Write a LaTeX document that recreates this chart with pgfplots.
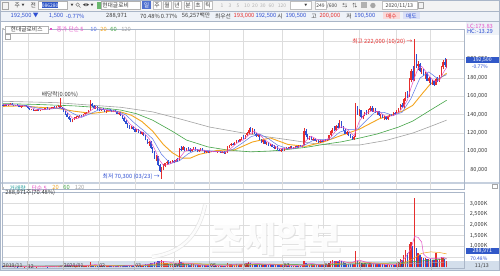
\documentclass[border=0pt]{standalone}
\usepackage{pgfplots}
\pgfplotsset{compat=1.18}
\usepackage{pgfplotstable}
\usepackage{fontspec}
\setmainfont{Noto Sans CJK KR}
\newcommand{\sz}[1]{\fontsize{#1}{#1}\selectfont}
\definecolor{upc}{HTML}{E62E2D}
\definecolor{dnc}{HTML}{2E4FD2}
\definecolor{ma5}{HTML}{E552C8}
\definecolor{ma10}{HTML}{5B78E8}
\definecolor{ma20}{HTML}{F3A51F}
\definecolor{ma60}{HTML}{45A548}
\definecolor{ma120}{HTML}{A3A3A3}
\definecolor{gridc}{HTML}{DDDDDD}
\definecolor{axc}{HTML}{AAB6C8}
\definecolor{sep}{HTML}{C6D0DE}
\definecolor{band}{HTML}{D3DEEB}
\definecolor{txt}{HTML}{3A3A3A}
\definecolor{boxb}{HTML}{3158C8}
\definecolor{hdra}{HTML}{F3F3F3}
\definecolor{hdrb}{HTML}{EEF2F8}
\definecolor{vteal}{HTML}{2AA0A0}
\pgfplotstableread{
i o h l c v
0 151 152 149.5 150 60
1 150 151.5 149 151 55
2 151 152 150 150.5 50
3 150.5 151.5 149.5 151 45
4 151 152.5 150 152 70
5 152 152.5 150 150.5 60
6 150.5 151 149 149.5 50
7 149.5 151 149 150.5 45
8 150.5 151.5 149.5 150 40
9 150 150.5 148 148.5 55
10 148.5 149.5 147.5 149 45
11 149 150.5 148.5 150 50
12 150 151 149 150.5 40
13 150.5 151 148.5 149 50
14 149 149.5 146.5 147 60
15 147 147.5 145 145.5 70
16 145.5 146.5 144.5 146 50
17 146 146.5 144 144.5 55
18 144.5 145.5 143.5 145 45
19 145 146 144 145.5 40
20 145.5 146 144 144.5 50
21 144.5 145.5 143.5 145 45
22 145 146.5 144.5 146 50
23 146 147 145 146.5 45
24 146.5 147.5 145.5 147 50
25 147 148 146 146.5 40
26 146.5 147.5 145.5 147 45
27 147 148 146.5 147.5 50
28 147.5 148.5 146.5 148 55
29 148 149 147 147.5 45
30 147.5 149 147 148.5 60
31 148.5 150 148 149.5 70
32 149.5 150 147 147.5 60
33 147.5 148 146 146.5 50
34 146.5 147 143 143.5 80
35 143.5 144 140 140.5 90
36 140.5 141.5 137 137.5 100
37 137.5 138.5 134.5 135 110
38 135 136.5 132 133 120
39 133 135 131.5 134.5 90
40 134.5 137 134 136.5 80
41 136.5 138 135.5 137.5 70
42 137.5 139 136.5 138 60
43 138 139.5 137 139 60
44 139 140 137.5 138.5 55
45 138.5 141 138 140.5 70
46 140.5 142 139.5 141.5 60
47 141.5 143 140.5 142 70
48 142 145 141.5 144.5 110
49 144.5 156 144 151.5 250
50 151.5 153 148 149 130
51 149 150.5 146.5 147 90
52 147 149 146 148.5 80
53 148.5 149 145.5 146 70
54 146 147 144 144.5 70
55 144.5 146.5 144 146 60
56 146 147 144.5 145 55
57 145 145.5 142.5 143 60
58 143 144.5 142 144 50
59 144 145.5 143.5 145 55
60 145 146 143.5 144 50
61 144 145 142.5 143 50
62 143 144.5 142.5 144 45
63 144 145 142.5 143 50
64 143 143.5 140.5 141 60
65 141 142.5 140 142 55
66 142 142.5 139 139.5 60
67 139.5 140 135.5 136 80
68 136 137 132.5 133 90
69 133 134 129.5 130 100
70 130 131 126 127 110
71 127 128.5 124.5 125 100
72 125 127.5 124.5 127 90
73 127 128 123.5 124 80
74 124 125.5 121 121.5 110
75 121.5 124 121 123.5 90
76 123.5 124.5 120.5 121 100
77 121 122.5 118.5 119 110
78 119 121.5 118 121 90
79 121 121.5 116.5 117 120
80 117 117.5 112 112.5 150
81 112.5 114 108 109 170
82 109 111.5 106 110.5 150
83 110.5 111 103 104 190
84 104 105 98 99 220
85 99 101 92 93 250
86 93 96 90 95 220
87 95 95.5 84 85 280
88 85 86 78 79 300
89 79 83.5 70.3 82 350
90 82 86 80 84.5 280
91 84.5 88 83 87 230
92 87 90 85.5 89 200
93 89 91 86 87 180
94 87 89.5 86 88.5 150
95 88.5 91 87.5 90 160
96 90 91 88 89 140
97 89 92 88.5 91 150
98 91 92.5 89 90 130
99 90 104 90 103 350
100 103 106 101 102 250
101 102 105.5 101.5 104.5 200
102 104.5 105 100.5 101 180
103 101 104 100 103.5 160
104 103.5 104.5 101 102 140
105 102 103.5 99.5 100 130
106 100 103 99.5 102.5 140
107 102.5 105 102 104 150
108 104 104.5 100.5 101 130
109 101 102.5 99 100 120
110 100 102 99.5 101.5 110
111 101.5 103.5 101 103 120
112 103 103.5 100.5 101 110
113 101 101.5 98.5 99 100
114 99 100.5 98 100 90
115 100 101 98.5 99 90
116 99 100.5 98 100 80
117 100 101 99 99.5 70
118 99.5 101 99 100.5 80
119 100.5 101 99 99.5 70
120 99.5 100.5 98.5 100 70
121 100 101 99.5 100.5 75
122 100.5 101 98.5 99 80
123 99 100 98 99.5 70
124 99.5 100 97.5 98 80
125 98 99.5 97 99 70
126 99 106 98.5 105.5 200
127 105.5 107 104 106.5 150
128 106.5 109 105.5 108.5 140
129 108.5 109.5 106.5 107 120
130 107 110.5 106.5 110 130
131 110 112 109 111.5 140
132 111.5 113 110 110.5 120
133 110.5 114 110 113.5 150
134 113.5 116 112.5 115 160
135 115 117.5 113.5 114 140
136 114 118 113.5 117.5 170
137 117.5 121 116.5 120.5 200
138 120.5 125 119.5 123.5 250
139 123.5 126.5 121 122 220
140 122 125 119.5 124 180
141 124 124.5 119 119.5 170
142 119.5 120.5 116 117 160
143 117 119.5 115.5 118.5 140
144 118.5 119 112 113 180
145 113 114 109 110 170
146 110 112.5 108.5 112 130
147 112 112.5 108 108.5 140
148 108.5 110 106.5 109.5 120
149 109.5 110.5 106 106.5 130
150 106.5 108.5 105.5 107.5 110
151 107.5 108 104.5 105 120
152 105 106.5 103 104 110
153 104 105.5 102.5 105 100
154 105 105.5 101.5 102 110
155 102 103 100 100.5 120
156 100.5 102.5 99.5 102 100
157 102 103.5 100.5 101.5 90
158 101.5 104 101 103.5 100
159 103.5 105 102.5 104 90
160 104 105 102.5 103 80
161 103 105.5 102.5 105 90
162 105 106 103.5 104 80
163 104 105 103 104.5 70
164 104.5 106 104 105.5 80
165 105.5 106 104 104.5 70
166 104.5 106.5 104 106 80
167 106 107 104.5 105 70
168 105 107.5 104.5 107 90
169 107 126 106.5 122 300
170 122 124 116 117.5 200
171 117.5 119.5 114 115 160
172 115 117 112.5 116 130
173 116 117 112 112.5 140
174 112.5 114.5 111 114 120
175 114 115 111 111.5 110
176 111.5 113 110 112.5 100
177 112.5 113 109.5 110 110
178 110 112 109 111.5 100
179 111.5 112.5 110 111 90
180 111 113 110 112.5 100
181 112.5 114 111 111.5 110
182 111.5 113.5 111 113 100
183 113 118 112.5 117.5 200
184 117.5 123 117 122 300
185 122 126 120.5 124.5 330
186 124.5 128 122 123 300
187 123 129 122.5 128 320
188 128 131 125 126 280
189 126 134 125.5 132 330
190 132 133 125 126 300
191 126 127.5 122 123 260
192 123 124.5 118.5 119.5 220
193 119.5 122 118 121 180
194 121 121.5 116.5 117 170
195 117 118.5 114.5 116 150
196 116 117 113 114 140
197 114 116.5 113 116 150
198 116 153 115.5 148 790
199 148 149 140 141 300
200 141 146 138.5 144.5 250
201 144.5 145.5 136 137 220
202 137 140 135 139 180
203 139 143 138 142.5 170
204 142.5 145 140 141 160
205 141 146 140.5 145.5 180
206 145.5 149 144 147.5 200
207 147.5 149 143 144 180
208 144 147.5 143 146.5 160
209 146.5 147 142 142.5 150
210 142.5 144 140 143.5 140
211 143.5 144 139 139.5 150
212 139.5 141 136.5 140.5 140
213 140.5 141 136 136.5 150
214 136.5 138 134 137.5 140
215 137.5 138 134.5 135 130
216 135 139 134.5 138.5 140
217 138.5 140.5 137 140 130
218 140 141 138 139 120
219 139 142.5 138.5 142 130
220 142 143 140 141 120
221 141 144.5 140.5 144 200
222 144 147 143 146 250
223 146 152 145.5 151 400
224 151 153 147 148 350
225 148 158 147.5 157 600
226 157 165 155 163 800
227 163 166 158 160 700
228 160 180 159 178 1100
229 178 190 175 187 1200
230 187 193 176 178 1000
231 180 222 176 198 3270
232 203 206 191 193 900
233 193 198 188 195 700
234 195 196 186 187 600
235 187 191 184 189 500
236 189 190 182 183 450
237 183 186 179 184 420
238 184 185 176 177 400
239 177 181 174 179.5 380
240 179.5 181 172 173 400
241 173 178 172 176.5 350
242 176.5 177 171 172.5 330
243 172.5 180 172 179 700
244 179 181 175 176 350
245 176 183 175.5 182 400
246 182 193 181 191.5 500
247 191.5 199 189 197 450
248 197 201 192 194 380
249 190.5 200 190.5 192.5 289
}\data
\pgfplotsset{
  hts/.style={scale only axis, anchor=south west, xmin=-0.56, xmax=258.7,
    axis line style={draw=axc, line width=0.5bp}, tick style={draw=none},
    xtick={14,34,54,74,96,116,135,157,180,200,221,240}, xticklabels={},
    xmajorgrids, ymajorgrids, major grid style={draw=gridc, line width=0.45bp},
    yticklabel pos=right,
    yticklabel style={anchor=east, xshift=27bp, font=\sz{5.6}, text=txt, inner ysep=0bp}},
  upw/.style={upc, line width=0.5bp, forget plot,
    restrict expr to domain={\thisrow{c}-\thisrow{o}}{0:1000}},
  dnw/.style={dnc, line width=0.5bp, forget plot,
    restrict expr to domain={\thisrow{c}-\thisrow{o}}{-1000:-0.001}},
}
\begin{document}
\begin{tikzpicture}[x=1bp,y=1bp,font=\sz{5.8}]
\fill[white] (0,0) rectangle (500,271);
\fill[hdra] (0,260) rectangle (500,271);
\fill[hdrb] (0,250) rectangle (500,260);
\draw[axc, line width=0.4bp] (0,260) -- (500,260) (0,249.5) -- (500,249.5);
\fill[sep] (0,87) rectangle (500,89);
\fill[band] (0,0) rectangle (500,9.5);

% ---------- price panel ----------
\begin{axis}[hts, at={(1,89)}, width=464, height=160, ymin=59.5, ymax=232.4,
  ytick={80,100,120,140,160,180,200,220},
  yticklabels={{80,000},{100,000},{120,000},{140,000},{160,000},{180,000},{200,000},{}}]
\addplot[ma120, line width=0.6bp] coordinates {(0,154.5)(30,153)(66,148)(84,143)(100,135)(116,126.5)(138,119)(150,115.5)(161,112.5)(175,108.5)(185,107)(200,107)(215,112)(230,120)(239,126.5)(249,134)};
\addplot[ma60, line width=0.6bp] coordinates {(0,152)(20,151)(40,149.5)(55,147.5)(66,145)(75,141)(84,134)(95,122)(103,112.4)(115,105)(126,101.6)(139,99.6)(150,100.5)(157,101.6)(170,104.5)(181,108)(190,110.5)(200,114.5)(210,119)(222,126.5)(230,133)(240,145)(249,155.6)};
\addplot[ma20, line width=0.9bp] coordinates {(0,149)(10,149.5)(20,148)(30,147)(40,143.7)(50,141.3)(60,143.7)(66,143)(72,139.4)(78,132.5)(84,122.1)(90,107.6)(95,98.7)(100,92.9)(105,92.7)(110,96.8)(120,101.1)(130,101.8)(140,110.3)(150,114.7)(160,107.6)(170,105.6)(180,110.4)(190,117.5)(200,124.2)(211,135.3)(220,140.9)(225,144.5)(230,150.1)(235,162)(240,173.5)(245,179)(249,184.9)};
% candles: wicks and bodies
\addplot[upw, quiver={u=0, v={\thisrow{h}-\thisrow{l}}}] table[x=i, y=l] {\data};
\addplot[dnw, quiver={u=0, v={\thisrow{h}-\thisrow{l}}}] table[x=i, y=l] {\data};
\addplot[upw, line width=1.3bp, quiver={u=0, v={max(abs(\thisrow{c}-\thisrow{o}),0.5)}}] table[x=i, y expr={min(\thisrow{o},\thisrow{c})}] {\data};
\addplot[dnw, line width=1.3bp, quiver={u=0, v={max(abs(\thisrow{c}-\thisrow{o}),0.5)}}] table[x=i, y expr={min(\thisrow{o},\thisrow{c})}] {\data};
\addplot[ma10, line width=0.5bp] coordinates {(0,151)(9,150.3)(14,149.5)(19,147.2)(24,145.6)(29,146.6)(34,147.2)(39,141.6)(44,137)(49,141)(54,145.5)(59,145.8)(64,143.8)(69,139.6)(74,130.5)(79,122.6)(84,113.7)(89,96.9)(94,87)(99,89.9)(104,97.6)(109,102)(114,101.2)(119,100.3)(124,99.5)(129,102.3)(134,108.7)(139,115.8)(144,119)(149,113.9)(154,107)(159,103.5)(164,103.4)(169,106.7)(174,112)(179,113.2)(184,113.3)(189,121)(194,124)(199,124.2)(204,133.9)(209,143)(214,142.3)(219,139.2)(224,142.5)(229,157.5)(234,179.6)(239,186.4)(244,179)(249,183.4)};
\addplot[ma5, line width=0.5bp] coordinates {(0,151)(4,150.9)(9,149.8)(14,149.1)(19,145.3)(24,145.8)(29,147.3)(34,147.1)(37,140.6)(39,136.1)(42,135.9)(46,139.5)(49,144)(52,148.1)(56,146)(61,143.8)(65,142.6)(68,138.3)(71,130.2)(75,124.2)(79,120.3)(82,114)(85,103.1)(88,90.2)(90,85.1)(93,85.9)(96,88.7)(99,92.6)(102,100.1)(105,102.2)(110,101.8)(115,100.4)(120,99.9)(125,99.2)(128,103.5)(131,108.7)(135,112.9)(138,118.1)(141,121.9)(144,118.4)(147,112.4)(151,107.4)(155,103.3)(160,102.8)(165,104.7)(168,105.6)(170,111.5)(173,116.6)(176,113.3)(180,111.5)(184,115.3)(187,123)(190,127)(193,124.3)(197,116.8)(198,122.2)(200,132.7)(203,140.8)(207,144.1)(211,143.2)(215,137.8)(219,138.9)(222,142.4)(225,149.2)(227,155.8)(229,169)(231,180.2)(233,190.2)(235,192.4)(237,187.6)(239,182.5)(241,178)(243,176.1)(245,177.2)(247,185.1)(249,191.4)};
% annotations
\node[anchor=east, text=upc, inner sep=0.5bp] at (axis cs:230.2,219.5) {최고 222,000 (10/20) →};
\node[anchor=east, text=dnc, inner sep=0.5bp] at (axis cs:88.3,72.2) {최저 70,300 (03/23) →};
\node[text=txt, inner sep=0.5bp] at (axis cs:32,161.5) {배당락(0.00\%)};
\draw[upc, line width=0.5bp] (axis cs:32,158) -- (axis cs:32,148);
\draw[upc, line width=0.7bp] (axis cs:30.8,149.5) -- (axis cs:33.2,149.5);
\end{axis}

% ---------- volume panel ----------
\begin{axis}[hts, at={(1,10)}, width=464, height=77, ymin=-60, ymax=3551,
  ytick={500,1000,1500,2000,2500,3000},
  yticklabels={{},{1,000K},{1,500K},{2,000K},{2,500K},{3,000K}}]
\addplot[upw, line width=1.3bp, quiver={u=0, v={\thisrow{v}}}] table[x=i, y expr=0] {\data};
\addplot[dnw, line width=1.3bp, quiver={u=0, v={\thisrow{v}}}] table[x=i, y expr=0] {\data};
\addplot[ma120, line width=0.5bp] coordinates {(0,70)(100,100)(150,130)(200,150)(230,180)(249,250)};
\addplot[ma60, line width=0.5bp] coordinates {(0,60)(60,70)(90,120)(110,160)(130,150)(150,140)(170,120)(190,150)(210,200)(220,210)(230,267)(240,340)(249,406)};
\addplot[ma20, line width=0.5bp] coordinates {(0,55)(30,50)(40,70)(50,85)(60,80)(70,70)(80,100)(90,190)(100,200)(110,170)(120,110)(130,100)(140,150)(150,160)(160,115)(170,100)(180,125)(190,200)(200,259)(210,200)(220,150)(225,199)(230,397)(235,660)(240,731)(245,700)(249,638)};
\addplot[ma5, line width=0.5bp] coordinates {(0,55)(10,50)(20,50)(30,50)(36,80)(40,100)(45,70)(49,110)(52,130)(56,75)(66,55)(70,90)(75,100)(80,120)(85,200)(89,280)(93,260)(97,160)(100,210)(104,200)(110,125)(116,85)(125,75)(127,110)(131,150)(136,160)(139,210)(144,175)(150,130)(156,110)(160,90)(167,75)(170,150)(173,190)(178,115)(182,110)(185,230)(190,305)(195,200)(198,300)(200,340)(203,265)(208,180)(215,140)(220,125)(223,220)(226,480)(229,880)(231,1454)(233,1414)(235,1194)(236,630)(238,474)(240,410)(243,432)(245,426)(247,480)(249,404)};
\end{axis}

% watermark
\begin{scope}[opacity=0.9]
\draw[gray!22, line width=4bp] (152,14) .. controls (185,18) and (200,40) .. (205,66);
\draw[white, line width=2.6bp] (152,14) .. controls (185,18) and (200,40) .. (205,66);
\node[text=gray!25, font=\sz{36}\bfseries] at (277,30.5) {조세일보};
\node[text=white, font=\sz{36}\bfseries] at (276,31.5) {조세일보};
\end{scope}

% ---------- header row 1 ----------
\begin{scope}[every node/.style={text=txt, inner sep=0}]
\draw[gray!70, line width=0.4bp] (2,262) rectangle (8,269);
\node at (17,265.5) {주};
\node[font=\sz{3}] at (23,265.5) {▼};
\node at (33,265.5) {전};
\draw[gray!60, fill=white, line width=0.4bp] (38,261.5) rectangle (67,269.5);
\fill[boxb] (42,262.5) rectangle (58,268.5);
\node[text=white, font=\sz{5}] at (50,265.5) {086280};
\node[font=\sz{3}] at (72,265.5) {▼};
\draw[gray, line width=0.5bp] (77.5,266.3) circle (1.8) (78.8,265) -- (80.3,263.4);
\node[font=\sz{3.5}] at (86,265.5) {◀▶};
\node[font=\sz{3}] at (92,265.5) {▼};
\fill[ma60!80] (96.5,262) rectangle (101,269);
\draw[gray!60, fill=white, line width=0.4bp] (101,261.5) rectangle (140,269.5);
\node[anchor=west] at (102,265.5) {현대글로비};
\fill[boxb!85] (142,261.5) rectangle (151,269.5);
\node[text=white] at (146.5,265.5) {일};
\foreach \x/\t in {157/주,167/월,177/년,188/분,198/초,208/틱}{
  \draw[gray!50, fill=white, line width=0.3bp] (\x-4.3,261.5) rectangle (\x+4.3,269.5);
  \node at (\x,265.5) {\t};}
\foreach \x/\t in {222/1,230/3,238/5,247/10,255/20,263/30,271.5/60,282/120}{
  \node[text=gray!60, font=\sz{5}] at (\x,265.5) {\t};}
\draw[gray!50, fill=white, line width=0.3bp] (290,261.5) rectangle (311,269.5);
\node[font=\sz{3}] at (306,265.5) {▼};
\draw[gray!50, fill=white, line width=0.3bp] (315,261.5) rectangle (326,269.5);
\node[font=\sz{5}] at (320.5,265.5) {249};
\node[font=\sz{5}] at (332,265.5) {/600};
\node[font=\sz{5}] at (345,265.5) {⇆};
\node[font=\sz{5}] at (355,265.5) {⇅};
\fill[gray!60] (361,262.5) rectangle (367,268.5);
\fill[gray!70] (373,265.5) circle (2.7);
\draw[gray!50, fill=white, line width=0.3bp] (382,261.5) rectangle (417,269.5);
\node[font=\sz{5.3}] at (399.5,265.5) {2020/11/13};
\draw[gray!70, line width=0.4bp] (418.5,262.5) rectangle (423.5,268.5);
% ---------- header row 2 ----------
\node[text=dnc] at (24.5,255) {192,500 ▼};
\node[text=dnc] at (56,255) {1,500};
\node[text=dnc] at (75,255) {-0.77\%};
\node at (116.5,255) {288,971};
\node at (150,255) {70.48\%};
\node at (169,255) {0.77\%};
\node at (196,255) {56,257백만};
\node at (223,255) {최우선};
\node[text=upc] at (244,255) {193,000};
\node[text=dnc] at (266,255) {192,500};
\node at (280,255) {시};
\node[text=dnc] at (296,255) {190,500};
\node at (314,255) {고};
\node[text=upc] at (330,255) {200,000};
\node at (349,255) {저};
\node[text=dnc] at (365,255) {190,500};
\fill[upc!18] (383,251.5) rectangle (400,258.5);
\node[text=upc] at (391.5,255) {매수};
\fill[dnc!18] (403,251.5) rectangle (420,258.5);
\node[text=dnc] at (411.5,255) {매도};
% ---------- price legend ----------
\fill[gray!50] (2,240.5) rectangle (3.5,242.5);
\draw[gray!60, fill=white, line width=0.4bp] (5,238) rectangle (48,245);
\node at (26.5,241.5) {현대글로비스};
\fill[ma5] (50,240.5) rectangle (51.5,242.5);
\node[text=ma5] at (70,241.5) {종가 단순 5};
\node[text=ma10] at (93.5,241.5) {10};
\node[text=ma20] at (103.5,241.5) {20};
\node[text=ma60] at (113.5,241.5) {60};
\node[text=ma120] at (126,241.5) {120};
\draw[gray!70, fill=white, line width=0.4bp] (5,231.5) rectangle (10.5,237);
% ---------- volume legend ----------
\fill[gray!50] (2,82) rectangle (3.5,84);
\node[text=vteal] at (17.5,83) {거래량};
\node[text=ma5] at (39,83) {단순 5};
\node[text=ma20] at (55.5,83) {20};
\node[text=ma60] at (66.5,83) {60};
\node[text=ma120] at (79.5,83) {120};
\node[anchor=west] at (5,78) {288,971주(70.48\%)};
% ---------- right side boxes ----------
\fill[hdrb] (466,235.5) rectangle (500,248.5);
\node[anchor=west, text=ma5] at (467,245) {LC:173.83};
\node[anchor=west, text=dnc] at (467,239.5) {HC:-13.29};
\fill[boxb] (466,208.2) rectangle (499,214.4);
\node[text=white, font=\sz{5.2}] at (482.5,211.2) {192,500};
\node[text=dnc, font=\sz{5}] at (480,204.5) {-0.77\%};
\fill[boxb] (466,16.8) rectangle (499,23);
\node[text=white, font=\sz{5.4}] at (482.5,19.9) {288,971};
\node[text=dnc, font=\sz{5}] at (479,12.4) {70.48\%};
\draw[gray!70, fill=white, line width=0.4bp] (492.5,83) rectangle (497.5,87);
% ---------- x labels ----------
\foreach \x in {27,63,98.5,134.5,173.5,209.5,243.5,283,324,360,397.5,431.5}{
  \draw[gray!55, line width=0.4bp] (\x,0) -- (\x,9.5);}
\foreach \x/\t in {2.5/2019\slash 11,27.5/12,63.5/2020\slash 01,99/02,135/03,174/04,210/05,244/06,283.5/07,324.5/08,360.5/09,398/10,432/11}{
  \node[anchor=west, font=\sz{5.3}] at (\x,4.7) {\t};}
\node[font=\sz{5.3}] at (482,4.7) {11/13};
\end{scope}
\draw[axc, line width=0.5bp] (0.25,0.25) rectangle (499.75,270.75);
\end{tikzpicture}
\end{document}
